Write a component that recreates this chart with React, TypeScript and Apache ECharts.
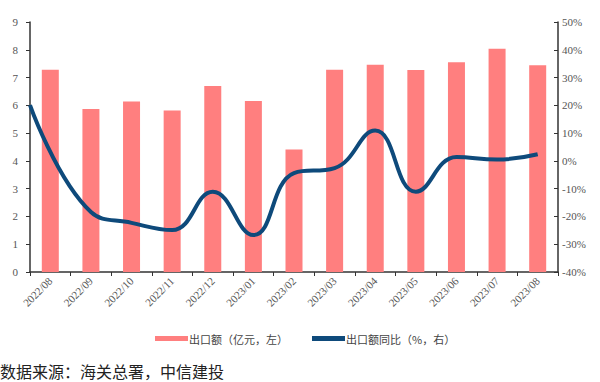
import React, { useEffect, useRef } from "react";
import * as echarts from "echarts";

const categories = [
  "2022/08", "2022/09", "2022/10", "2022/11", "2022/12", "2023/01", "2023/02",
  "2023/03", "2023/04", "2023/05", "2023/06", "2023/07", "2023/08",
];
// 出口额（亿元）
const exportValues = [7.28, 5.87, 6.14, 5.81, 6.7, 6.16, 4.41, 7.28, 7.46, 7.27, 7.55, 8.04, 7.44];
// 出口额同比（%）: positions on the category scale (line starts at the left axis edge)
const yoyPositions = [-0.5, 1, 2, 3, 4, 5, 6, 7, 8, 9, 10, 11, 12];
const yoyValues = [20.1, -18.4, -22.3, -24.9, -11.1, -26.7, -4.4, -2.6, 10.9, -11.1, 1.4, 0.5, 2.4];
const leftTicks = { min: 0, max: 9, interval: 1 };
const rightTicks = { min: -40, max: 50, interval: 10 };

const barName = "出口额（亿元，左）";
const lineName = "出口额同比（%，右）";
const sourceText = "数据来源：海关总署，中信建投";

export default function App() {
  const ref = useRef<HTMLDivElement>(null);
  useEffect(() => {
    if (!ref.current) return;
    const chart = echarts.init(ref.current, null, { renderer: "svg" });
    const axisLine = { show: true, onZero: false, lineStyle: { color: "#333", width: 1.5 } };
    const labelFont = { color: "#555", fontSize: 11, fontFamily: "Liberation Serif" };
    chart.setOption({
      animation: false,
      backgroundColor: "#fff",
      grid: { left: 30, right: 42, top: 22, bottom: 110, containLabel: false },
      legend: {
        left: 150,
        top: 328,
        itemGap: 24,
        itemWidth: 33,
        itemHeight: 5,
        icon: "rect",
        textStyle: {
          color: "#444",
          fontSize: 11,
          fontFamily: "Noto Sans CJK SC",
          padding: [0, 0, 0, -4],
        },
        data: [barName, lineName],
      },
      xAxis: [
        {
          type: "category",
          data: categories,
          axisLine,
          axisTick: { show: true, inside: false, length: 4, lineStyle: { color: "#333" } },
          axisLabel: { ...labelFont, rotate: 45, fontSize: 11, margin: 7 },
          splitLine: { show: false },
        },
        {
          type: "value",
          min: -0.5,
          max: 12.5,
          show: false,
        },
      ],
      yAxis: [
        {
          type: "value",
          ...leftTicks,
          position: "left",
          axisLine,
          axisTick: { show: true, length: 4, lineStyle: { color: "#333" } },
          axisLabel: { ...labelFont, margin: 12 },
          splitLine: { show: false },
        },
        {
          type: "value",
          ...rightTicks,
          position: "right",
          axisLine,
          axisTick: { show: true, inside: true, length: 4, lineStyle: { color: "#333" } },
          axisLabel: { ...labelFont, margin: 4, formatter: (v: number) => `${v}%` },
          splitLine: { show: false },
        },
      ],
      series: [
        {
          name: barName,
          type: "bar",
          xAxisIndex: 0,
          yAxisIndex: 0,
          data: exportValues,
          barWidth: 17,
          itemStyle: { color: "#FF7F7F" },
        },
        {
          name: lineName,
          type: "line",
          xAxisIndex: 1,
          yAxisIndex: 1,
          data: yoyPositions.map((x, i) => [x, yoyValues[i]]),
          smooth: 0.45,
          showSymbol: false,
          symbol: "none",
          lineStyle: { color: "#0E4A7B", width: 4 },
          itemStyle: { color: "#0E4A7B" },
        },
      ],
      graphic: [
        {
          type: "text",
          left: 0,
          top: 363,
          style: {
            text: sourceText,
            fontSize: 16,
            fill: "#222",
            fontFamily: "Noto Sans CJK SC",
          },
        },
      ],
    });
    return () => chart.dispose();
  }, []);
  return (
    <div
      ref={ref}
      style={{ position: "absolute", left: 0, top: 0, width: 600, height: 382 }}
    />
  );
}
